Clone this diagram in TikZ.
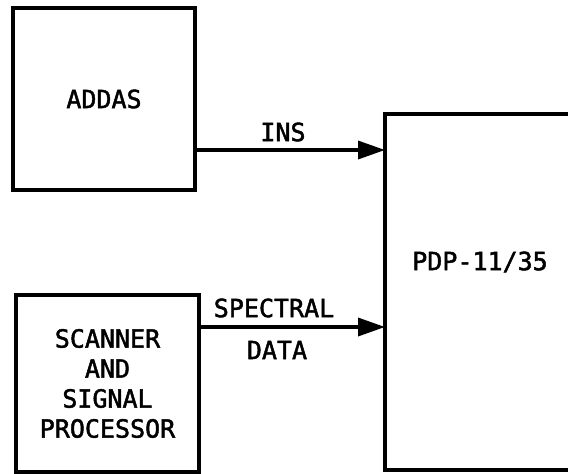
\documentclass[tikz,border=0pt]{standalone}
\usepackage{fontspec}
\setmainfont{DejaVu Sans Mono}[FakeBold=1.8]
\usetikzlibrary{arrows.meta}
\begin{document}
\begin{tikzpicture}[x=1pt,y=-1pt,
  blk/.style={draw,line width=4pt,inner sep=0pt,align=center,font=\fontsize{25}{30}\selectfont},
  lbl/.style={inner sep=0pt,font=\fontsize{25}{30}\selectfont},
  arr/.style={line width=3.5pt,-{Triangle[length=27pt,width=18pt]},shorten >=-2pt}]
\useasboundingbox (0,0) rectangle (568,474);
\clip (0,0) rectangle (568,474);
\node[blk,minimum width=182pt,minimum height=182pt] (addas) at (104,99) {ADDAS};
\node[blk,minimum width=183pt,minimum height=177pt] (scanner) at (107.5,383.5) {SCANNER\\AND\\SIGNAL\\PROCESSOR};
\node[blk,minimum width=215pt,minimum height=356pt] (pdp) at (492.5,292) {};
\node[lbl] (pdptext) at (480,262) {PDP-11/35};
\draw[arr] (addas.east |- 0,150) -- (pdp.west |- 0,150);
\draw[arr] (scanner.east |- 0,327) -- (pdp.west |- 0,327);
\node[lbl] (ins) at (283,132) {INS};
\node[lbl] (spec) at (274,308) {SPECTRAL};
\node[lbl] (data) at (277,350) {DATA};
\end{tikzpicture}
\end{document}
